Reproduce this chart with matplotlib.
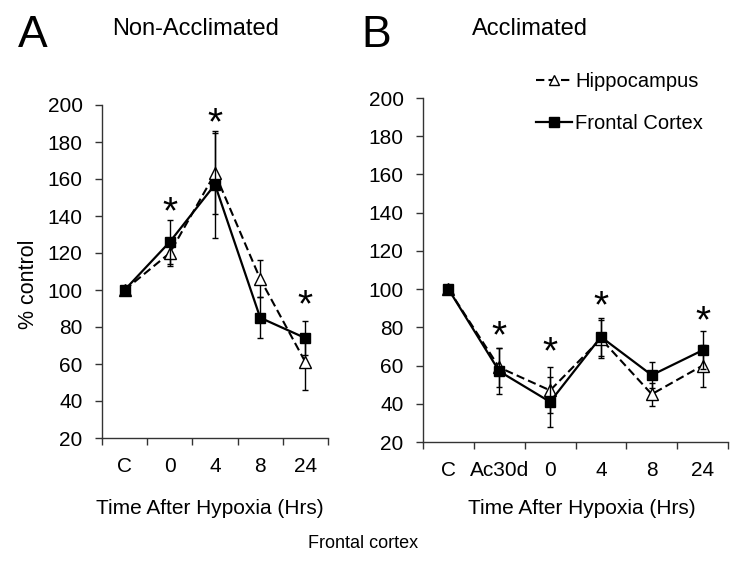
import numpy as np
import matplotlib
matplotlib.use("Agg")
import matplotlib.pyplot as plt
from matplotlib.lines import Line2D

plt.rcParams['font.family'] = ['Liberation Sans', 'DejaVu Sans']

# Panel A: non-acclimated
cats_na = ['C', '0', '4', '8', '24']
hippo_na = [100, 120, 163, 106, 61]
hippo_na_err = [0, 7, 22, 10, 15]
frontal_na = [100, 126, 157, 85, 74]
frontal_na_err = [0, 12, 29, 11, 9]
stars_na_x = [1, 2, 4]
stars_na_y = [148, 196, 98]

# Panel B: acclimated
cats_ac = ['C', 'Ac30d', '0', '4', '8', '24']
hippo_ac = [100, 59, 47, 74, 45, 60]
hippo_ac_err = [0, 10, 12, 10, 6, 11]
frontal_ac = [100, 57, 41, 75, 55, 68]
frontal_ac_err = [0, 12, 13, 10, 7, 10]
stars_ac_x = [1, 2, 3, 5]
stars_ac_y = [81, 73, 97, 89]

W, H = 752, 565
fig = plt.figure(figsize=(W / 100, H / 100), dpi=100)

hippo_style = dict(color='black', ls='--', lw=1.5, dashes=(4, 2), marker='^',
                   mfc='white', mec='black', mew=1)
frontal_style = dict(color='black', ls='-', lw=1.6, marker='s',
                     mfc='black', mec='black')


def px_axes(x0, y0, x1, y1):
    # pixel box (top-left origin) -> figure axes
    return fig.add_axes([x0 / W, 1 - y1 / H, (x1 - x0) / W, (y1 - y0) / H])


def draw_panel(ax, cats, hv, he, fv, fe, sx, sy):
    x = np.arange(len(cats))
    ax.errorbar(x, hv, yerr=he, ms=9, ecolor='black', elinewidth=1,
                capsize=2.5, capthick=1, zorder=2, **hippo_style)
    ax.errorbar(x, fv, yerr=fe, ms=7.5, ecolor='black', elinewidth=1,
                capsize=2.5, capthick=1, zorder=3, **frontal_style)
    for xi, yi in zip(sx, sy):
        ax.annotate('*', xy=(xi, yi), xytext=(0, -16), textcoords='offset points',
                    ha='center', va='baseline', fontsize=28)
    ax.set_xlim(-0.5, len(cats) - 0.5)
    ax.set_ylim(20, 200)
    ax.set_yticks(np.arange(20, 201, 20))
    ax.set_xticks(x)
    ax.set_xticklabels(cats)
    ax.set_xticks(np.arange(-0.5, len(cats), 1), minor=True)
    ax.tick_params(axis='x', which='major', length=0, pad=14, labelsize=15)
    ax.tick_params(axis='x', which='minor', length=5, width=1, direction='out', color='#333333')
    ax.tick_params(axis='y', length=5, width=1, direction='out', pad=9, labelsize=15, color='#333333')
    for s in ['top', 'right']:
        ax.spines[s].set_visible(False)
    for s in ['left', 'bottom']:
        ax.spines[s].set_color('#333333')
        ax.spines[s].set_linewidth(1)


ax1 = px_axes(102, 105, 328, 438)
draw_panel(ax1, cats_na, hippo_na, hippo_na_err, frontal_na, frontal_na_err,
           stars_na_x, stars_na_y)

ax2 = px_axes(423, 98, 728, 442)
draw_panel(ax2, cats_ac, hippo_ac, hippo_ac_err, frontal_ac, frontal_ac_err,
           stars_ac_x, stars_ac_y)

handles = [Line2D([], [], ms=7.5, **hippo_style),
           Line2D([], [], ms=6.5, **frontal_style)]
ax2.legend(handles, ['Hippocampus', 'Frontal Cortex'], loc='upper left',
           bbox_to_anchor=(536 / W, 1 - 72 / H), bbox_transform=fig.transFigure,
           frameon=False, fontsize=14.5, handlelength=1.8, handletextpad=0.15,
           labelspacing=1.15, borderpad=0, borderaxespad=0)

# panel letters and titles
fig.text(18 / W, 1 - 47 / H, 'A', fontsize=32, va='baseline', ha='left')
fig.text(361 / W, 1 - 47 / H, 'B', fontsize=32, va='baseline', ha='left')
fig.text(112 / W, 1 - 35 / H, 'Non-Acclimated', fontsize=17, va='baseline', ha='left')
fig.text(472 / W, 1 - 35 / H, 'Acclimated', fontsize=17, va='baseline', ha='left')

fig.text(28 / W, 1 - 284 / H, '% control', fontsize=15.5, rotation=90,
         ha='center', va='center')
fig.text(210 / W, 1 - 508 / H, 'Time After Hypoxia (Hrs)', fontsize=15,
         ha='center', va='center')
fig.text(582 / W, 1 - 508 / H, 'Time After Hypoxia (Hrs)', fontsize=15,
         ha='center', va='center')
fig.text(308 / W, 1 - 543 / H, 'Frontal cortex', fontsize=13,
         ha='left', va='center')

fig.savefig('out.png', dpi=100)
